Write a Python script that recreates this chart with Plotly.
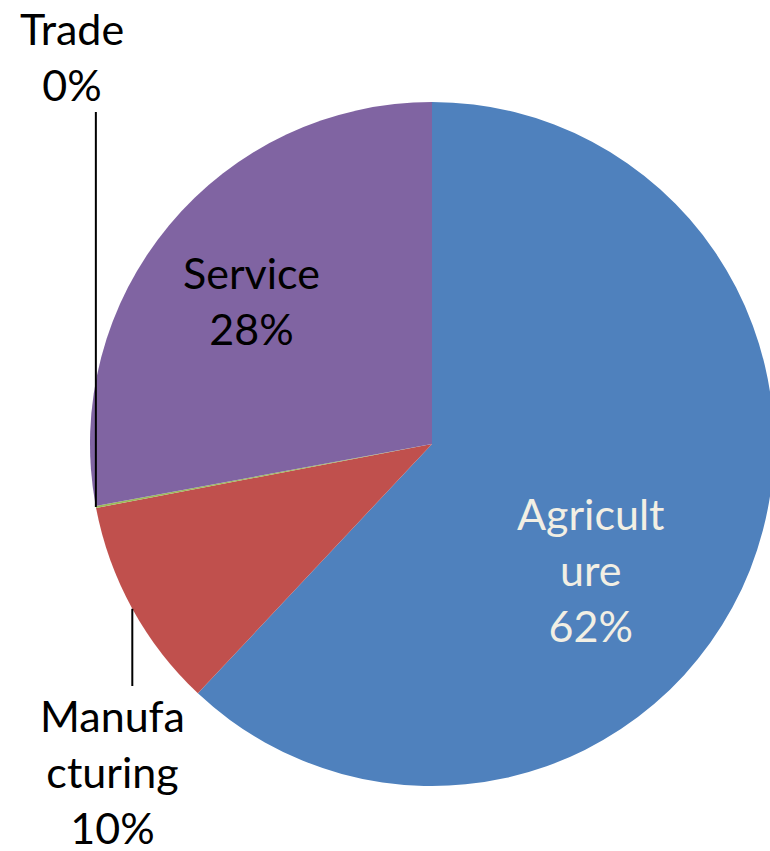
import math
import plotly.graph_objects as go

# Data
categories = ["Agriculture", "Manufacturing", "Trade", "Service"]
values = [62, 10, 0.1, 27.9]
label_text = ["Agricult<br>ure", "Manufa<br>cturing", "Trade", "Service"]
colors = ["#4F81BD", "#C0504D", "#9BBB59", "#8064A2"]

W, H = 790, 851  # slightly wider than the window; the overflow is hidden like the reference's clipped edge
cx, cy, r = 432.0, 444.0, 342.0
dom_x = [(cx - r) / W, (cx + r) / W]
dom_y = [(H - (cy + r)) / H, (H - (cy - r)) / H]

fig = go.Figure(go.Pie(
    labels=categories, values=values, sort=False, direction="clockwise", rotation=0,
    marker=dict(colors=colors, line=dict(width=0)),
    textinfo="none", hoverinfo="label+percent",
    domain=dict(x=dom_x, y=dom_y), showlegend=False,
))

total = sum(values)
pct = [round(v / total * 100) for v in values]

def px2paper(x, y):
    return x / W, 1 - y / H

def edge_point(i):
    cum = sum(values[:i]) + values[i] / 2
    ang = cum / total * 2 * math.pi
    return cx + r * math.sin(ang), cy - r * math.cos(ang)

font = "Lato, Open Sans, sans-serif"
fs = 43
# label placements (pixel centers), colour
label_pos = {
    0: (591, 569, "#F2EFE4"),
    1: (112, 771, "#000000"),
    2: (72, 57, "#000000"),
    3: (252, 300, "#000000"),
}
annotations = []
for i, (x, y, col) in label_pos.items():
    ax, ay = px2paper(x, y)
    annotations.append(dict(
        x=ax, y=ay, xref="paper", yref="paper", showarrow=False,
        text=f"{label_text[i]}<br>{pct[i]}%", font=dict(family=font, size=fs, color=col),
        xanchor="center", yanchor="middle", align="center",
    ))

shapes = []
# leader lines from slice edge (mid angle) vertically to label
for i, y_end in [(1, 686), (2, 112)]:
    ex, ey = edge_point(i)
    x0, y0 = px2paper(ex, ey)
    x1, y1 = px2paper(ex, y_end)
    shapes.append(dict(type="line", xref="paper", yref="paper", x0=x0, y0=y0, x1=x1, y1=y1,
                       line=dict(color="#000000", width=2)))

fig.update_layout(
    width=W, height=H, margin=dict(l=0, r=0, t=0, b=0),
    paper_bgcolor="white", plot_bgcolor="white",
    annotations=annotations, shapes=shapes,
)
fig.write_html(
    "out.html",
    config={"displayModeBar": False},
    post_script="document.body.style.margin='0';document.body.style.overflow='hidden';",
)
